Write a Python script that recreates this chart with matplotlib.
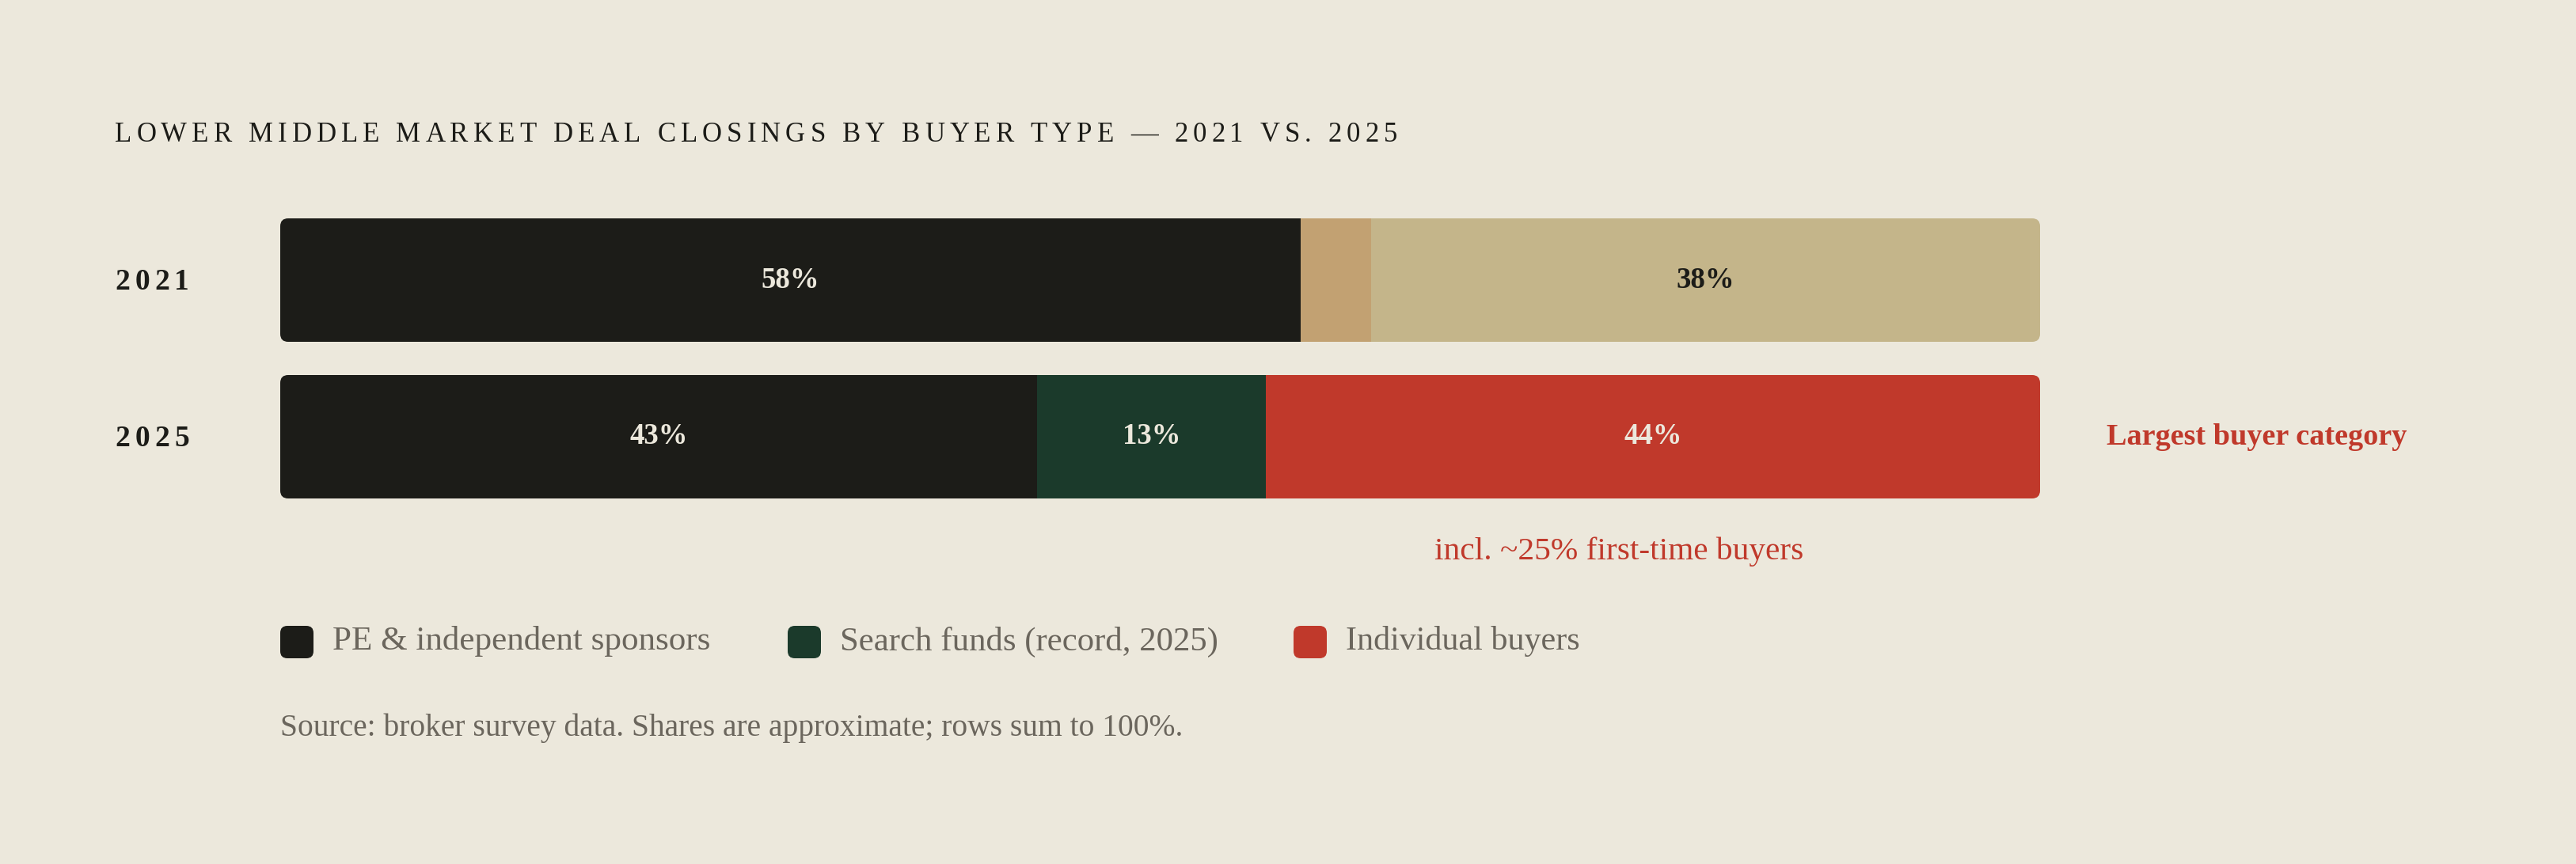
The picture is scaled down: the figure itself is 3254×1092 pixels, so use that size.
import matplotlib
matplotlib.use("Agg")
import numpy as np
import matplotlib.pyplot as plt
from matplotlib.patches import FancyBboxPatch

# chart data
years = ["2021", "2025"]
buyer_types = ["PE & independent sponsors", "Search funds (record, 2025)", "Individual buyers"]
share_2021 = [58, 4, 38]
share_2025 = [43, 13, 44]

title = "LOWER MIDDLE MARKET DEAL CLOSINGS BY BUYER TYPE \u2014 2021 VS. 2025"
callout = "Largest buyer category"
note = "incl. ~25% first-time buyers"
source = "Source: broker survey data. Shares are approximate; rows sum to 100%."

# styles
BG = "#ece8dc"
INK = "#1c1c18"
GREY = "#6b665d"
RED = "#c0392b"
colors_2025 = ["#1c1c18", "#1b3a2b", "#c0392b"]
colors_2021 = ["#1c1c18", "#c2a172", "#c4b58a"]
label_colors_2021 = [BG, BG, INK]
label_colors_2025 = [BG, BG, BG]
FONT = "Liberation Serif"

W, H = 3255, 1092
fig = plt.figure(figsize=(W / 100, H / 100), dpi=100, facecolor=BG)
renderer = fig.canvas.get_renderer()

# overlay axes in pixel units for free text / legend
ax_o = fig.add_axes([0, 0, 1, 1])
ax_o.set_xlim(0, W)
ax_o.set_ylim(H, 0)
ax_o.axis("off")
ax_o.patch.set_alpha(0)


def spaced_text(ax, x, y, s, target_width, **kw):
    """draw s char by char with tracking so the whole string spans target_width"""
    widths = []
    for ch in s:
        if ch == " ":
            t = ax.text(0, 0, "a a", **kw)
            t2 = ax.text(0, 0, "aa", **kw)
            w = t.get_window_extent(renderer).width - t2.get_window_extent(renderer).width
            t.remove(); t2.remove()
        else:
            t = ax.text(0, 0, ch, **kw)
            w = t.get_window_extent(renderer).width
            t.remove()
        widths.append(w)
    track = (target_width - sum(widths)) / max(len(s) - 1, 1)
    cx = x
    for ch, w in zip(s, widths):
        if ch != " ":
            ax.text(cx, y, ch, ha="left", va="baseline", **kw)
        cx += w + track


def fit_text(ax, x, y, s, target_width, fontsize, **kw):
    """draw text, rescaling the font so it is about target_width pixels wide"""
    t = ax.text(x, y, s, fontsize=fontsize, **kw)
    w = t.get_window_extent(renderer).width
    t.set_fontsize(fontsize * target_width / w)
    return t


# title
spaced_text(ax_o, 145, 179, title, 1620, fontsize=25, color=INK, family=FONT)

# bar axes
bar_left, bar_right = 354, 2577
bar_top, bar_bottom = 276, 630
ax = fig.add_axes([bar_left / W, 1 - bar_bottom / H, (bar_right - bar_left) / W, (bar_bottom - bar_top) / H])
bar_h = 0.788
ax.set_xlim(0, 100)
ax.set_ylim(1 + bar_h / 2, -bar_h / 2)
ax.axis("off")
ax.patch.set_alpha(0)

px_per_x = (bar_right - bar_left) / 100
px_per_y = (bar_bottom - bar_top) / (1 + bar_h)
radius_px = 10

rows = [share_2021, share_2025]
row_colors = [colors_2021, colors_2025]
row_label_colors = [label_colors_2021, label_colors_2025]

for i, (vals, cols, lcols) in enumerate(zip(rows, row_colors, row_label_colors)):
    clip = FancyBboxPatch((0, i - bar_h / 2), sum(vals), bar_h,
                          boxstyle=f"round,pad=0,rounding_size={radius_px / px_per_x}",
                          mutation_aspect=px_per_x / px_per_y,
                          transform=ax.transData, facecolor="none", edgecolor="none")
    lefts = np.concatenate([[0], np.cumsum(vals)[:-1]])
    bars = ax.barh([i] * len(vals), vals, left=lefts, height=bar_h, color=cols, linewidth=0)
    for b in bars:
        b.set_clip_path(clip)
    for v, l, lc in zip(vals, lefts, lcols):
        if v >= 10:
            ax.text(l + v / 2, i, f"{v}%", ha="center", va="center", fontsize=26.5,
                    fontweight="bold", color=lc, family=FONT)

# year labels
for i, yr in enumerate(years):
    spaced_text(ax_o, 145, 366 + i * 198, yr, 94, fontsize=27, fontweight="bold",
                color=INK, family=FONT)

# callouts
fit_text(ax_o, 2661, 552, callout, 380, 26, ha="left", va="center", fontweight="bold",
         color=RED, family=FONT)
fit_text(ax_o, 2045, 697, note, 467, 25, ha="center", va="center", color=RED, family=FONT)

# legend
legend_x = [354, 995, 1634]
legend_w = [478, 477, 296]
for x, lab, c, tw in zip(legend_x, buyer_types, colors_2025, legend_w):
    sw = FancyBboxPatch((x, 791), 42, 41, boxstyle="round,pad=0,rounding_size=9",
                        facecolor=c, edgecolor="none")
    ax_o.add_patch(sw)
    fit_text(ax_o, x + 66, 811, lab, tw, 27, ha="left", va="center", color=GREY, family=FONT)

# source line
fit_text(ax_o, 354, 920, source, 1146, 25, ha="left", va="center", color=GREY, family=FONT)

fig.savefig("out.png", dpi=100, facecolor=BG)
